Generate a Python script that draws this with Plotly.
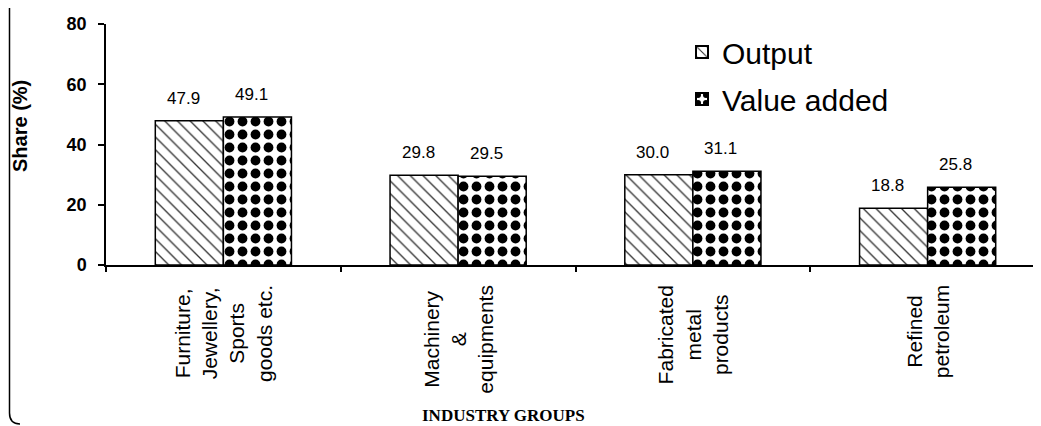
import plotly.graph_objects as go

categories = ["Furniture,<br>Jewellery,<br>Sports<br>goods etc.",
              "Machinery<br>&<br>equipments",
              "Fabricated<br>metal<br>products",
              "Refined<br>petroleum"]
output_vals = [47.9, 29.8, 30.0, 18.8]
value_added_vals = [49.1, 29.5, 31.1, 25.8]
series_names = ["Output", "Value added"]
y_ticks = [0, 20, 40, 60, 80]

W, H = 1041, 426
ML, MT, MB = 98, 16, 169
pw = W - ML
ph = H - MT - MB

fig = go.Figure()
fig.add_trace(go.Bar(
    x=categories, y=output_vals, name=series_names[0], legendgroup="a",
    marker=dict(color="white",
                line=dict(color="black", width=1.5),
                pattern=dict(shape="\\", size=9, solidity=0.15, fgopacity=1,
                             fgcolor="#333333", bgcolor="white")),
))
fig.add_trace(go.Bar(
    x=categories, y=value_added_vals, name=series_names[1], legendgroup="b",
    marker=dict(color="white",
                line=dict(color="black", width=1.5),
                pattern=dict(shape=".", size=13, solidity=0.45, fgopacity=1,
                             fgcolor="black", bgcolor="white")),
))

annotations = []
for vals, xs in ((output_vals, -34), (value_added_vals, 34)):
    for c, v in zip(categories, vals):
        annotations.append(dict(x=c, y=v, xref="x", yref="y", text=f"{v:.1f}",
                                showarrow=False, xshift=xs - 6, yanchor="bottom", yshift=11,
                                font=dict(family="Liberation Sans, Arial", size=17, color="black")))
# category labels, centred multi-line, rotated
for c in categories:
    annotations.append(dict(x=c, y=(H - MB - 275) / ph, xref="x", yref="paper", text=c,
                            showarrow=False, textangle=-90, align="center",
                            xanchor="center", yanchor="top",
                            font=dict(family="Liberation Sans, Arial", size=21, color="black")))
annotations.append(dict(x=(495 - ML) / pw, y=(H - MB - 407) / ph, xref="paper", yref="paper",
                        text="<b>INDUSTRY GROUPS</b>", showarrow=False,
                        xanchor="center", yanchor="middle",
                        font=dict(family="Liberation Serif, Times New Roman", size=17, color="black")))
annotations.append(dict(x=(12 - ML) / pw, y=(H - MB - 118) / ph, xref="paper", yref="paper",
                        text="<b>Share (%)</b>", showarrow=False, textangle=-90,
                        xanchor="center", yanchor="middle",
                        font=dict(family="Liberation Sans, Arial", size=20, color="black")))

# chart frame (left edge with rounded corner)
x0 = (1.5 - ML) / pw
x1 = (12 - ML) / pw
yt = (H - MB + 10) / ph
yb = (H - MB - 405) / ph
yc = (H - MB - 416) / ph
frame = dict(type="path", xref="paper", yref="paper",
             path=f"M {x0},{yt} L {x0},{yb} Q {x0},{yc} {x1},{yc}",
             line=dict(color="black", width=1.5))

fig.update_layout(
    width=W, height=H,
    margin=dict(l=ML, r=0, t=MT, b=MB, pad=0),
    paper_bgcolor="white", plot_bgcolor="white",
    barmode="group", bargap=0.42, bargroupgap=0,
    font=dict(family="Liberation Sans, Arial", color="black"),
    showlegend=True,
    legend=dict(x=(674 - ML) / pw, y=(H - MB - 18) / ph, xanchor="left", yanchor="top",
                bgcolor="rgba(0,0,0,0)", font=dict(size=30, color="black"),
                tracegroupgap=5, itemsizing="constant"),
    annotations=annotations,
    shapes=[frame],
)
fig.update_xaxes(
    range=[-0.5, 3.517], showline=True, linecolor="black", linewidth=1.5,
    ticks="outside", tickson="boundaries", ticklen=5, tickcolor="black", tickwidth=1.5,
    showticklabels=False, showgrid=False,
)
fig.update_yaxes(
    range=[0, 80], tickvals=y_ticks, showline=True, linecolor="black", linewidth=1.5,
    ticks="outside", ticklen=6, tickcolor="black", tickwidth=1.5, showgrid=False,
    zeroline=False, ticklabelstandoff=8,
    tickfont=dict(size=18, color="black", weight="bold"),
)

fig.write_html("out.html")
